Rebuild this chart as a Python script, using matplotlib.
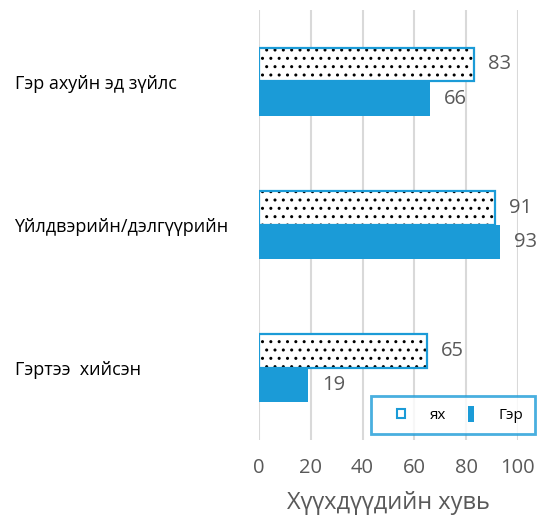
import numpy as np
import matplotlib.pyplot as plt
from matplotlib.patches import Patch, Rectangle
from matplotlib.legend_handler import HandlerPatch

plt.rcParams['font.family'] = ['Open Sans', 'DejaVu Sans']
plt.rcParams['hatch.linewidth'] = 1.0

categories = ['Гэр ахуйн эд зүйлс', 'Үйлдвэрийн/дэлгүүрийн', 'Гэртээ  хийсэн']
yx_vals = [83, 91, 65]
ger_vals = [66, 93, 19]
series_names = ['ях', 'Гэр']
xticks = [0, 20, 40, 60, 80, 100]
xlabel = 'Хүүхдүүдийн хувь'

blue = '#1b9bd7'
gray = '#595959'

fig = plt.figure(figsize=(5.39, 5.25), dpi=100)
ax = fig.add_axes([0.4805, 0.162, 0.4805, 0.819])

y = np.arange(len(categories))
h = 0.235
off = 0.12

# dotted bars: hatch layer then blue outline
ax.barh(y - off, yx_vals, height=h, color='white', edgecolor='black',
        hatch='..', linewidth=0, zorder=2)
ax.barh(y - off, yx_vals, height=h, fill=False, edgecolor=blue,
        linewidth=1.6, zorder=3)
ax.barh(y + off, ger_vals, height=h, color=blue, linewidth=0, zorder=2)

for yi, v in zip(y - off, yx_vals):
    ax.annotate(str(v), (v, yi), xytext=(10, 0), textcoords='offset points',
                va='center', ha='left', fontsize=14.5, color=gray)
for yi, v in zip(y + off, ger_vals):
    ax.annotate(str(v), (v, yi), xytext=(10, 0), textcoords='offset points',
                va='center', ha='left', fontsize=14.5, color=gray)

ax.set_xlim(0, 100)
ax.set_ylim(2.5, -0.5)
ax.set_xticks(xticks)
ax.set_xticklabels([str(t) for t in xticks], fontsize=14.5, color=gray)
ax.set_yticks(y)
ax.set_yticklabels(categories, fontsize=13, color='black')
for lab in ax.get_yticklabels():
    lab.set_horizontalalignment('left')
ax.tick_params(axis='y', length=0, pad=176)
ax.tick_params(axis='x', length=0, pad=13)
ax.set_xlabel(xlabel, fontsize=17, color=gray, labelpad=9)

ax.grid(axis='x', color='#d9d9d9', linewidth=1.5, zorder=0)
ax.set_axisbelow(True)
for s in ax.spines.values():
    s.set_visible(False)


# small markers sitting at the right end of the handle box
def dot_square(legend, orig_handle, xdescent, ydescent, width, height, fontsize):
    s = 6.0
    return Rectangle((width - xdescent - s, -ydescent + height / 2 - s / 2), s, s)


def tall_bar(legend, orig_handle, xdescent, ydescent, width, height, fontsize):
    w, hh = 4.5, 11.5
    return Rectangle((width - xdescent - w, -ydescent + height / 2 - hh / 2), w, hh)


h_dot = Patch(facecolor='white', edgecolor=blue, linewidth=1.5, hatch='.')
h_solid = Patch(facecolor=blue, edgecolor=blue, linewidth=0)
leg = ax.legend([h_dot, h_solid], series_names, ncol=2, loc='center',
                bbox_to_anchor=(371 / 539, 1 - 437 / 525, 164 / 539, 44 / 525),
                bbox_transform=fig.transFigure, mode='expand',
                fontsize=11, frameon=True, fancybox=False,
                handlelength=1.5, handleheight=0.9, columnspacing=1.8,
                handletextpad=1.6, borderpad=0.75, borderaxespad=0,
                handler_map={h_dot: HandlerPatch(patch_func=dot_square),
                             h_solid: HandlerPatch(patch_func=tall_bar)})
leg.get_frame().set_edgecolor(blue)
leg.get_frame().set_linewidth(2)
leg.set_zorder(5)

fig.savefig('out.png', dpi=100)
